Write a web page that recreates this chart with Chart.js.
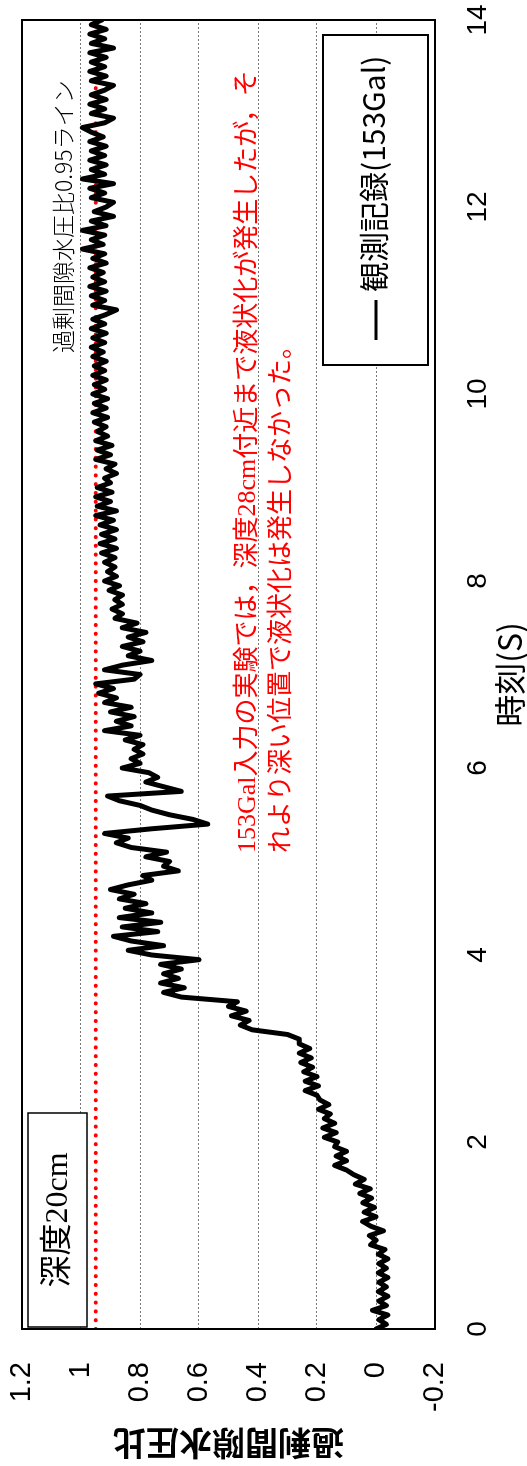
<!DOCTYPE html>
<html><head><meta charset="utf-8">
<script src="https://cdn.jsdelivr.net/npm/chart.js@4"></script>
<style>
html,body{margin:0;padding:0;background:#fff;overflow:hidden;width:527px;height:1466px;}
#wrap{position:absolute;left:0;top:0;width:1466px;height:527px;transform-origin:0 0;transform:translateY(1466px) rotate(-90deg);background:#fff;}
canvas{display:block;}
</style></head><body>
<div id="wrap"><canvas id="c" width="1466" height="527" style="width:1466px;height:527px"></canvas></div>
<script>
// sample interval of the record (s)
const DT = 0.05;
// excess pore water pressure ratio, one array per second
const seg00 = [0.0,-0.035,-0.01,-0.04,0.012,-0.035,-0.01,-0.04,-0.008,-0.035,-0.01,-0.04,-0.008,-0.035,-0.01,-0.04,-0.008,-0.03,0.018,0.0];
const seg01 = [0.022,-0.025,0.018,0.045,0.0,0.04,0.005,0.045,0.015,0.055,0.02,0.07,0.04,0.075,0.1,0.14,0.1,0.135,0.1,0.14];
const seg02 = [0.13,0.175,0.135,0.18,0.14,0.175,0.155,0.195,0.16,0.19,0.2,0.24,0.195,0.24,0.2,0.245,0.215,0.255,0.22,0.26];
const seg03 = [0.225,0.26,0.26,0.3,0.42,0.46,0.43,0.49,0.44,0.5,0.47,0.66,0.72,0.65,0.73,0.67,0.72,0.66,0.73,0.6];
const seg04 = [0.76,0.84,0.72,0.83,0.89,0.74,0.86,0.73,0.87,0.76,0.85,0.78,0.87,0.82,0.9,0.84,0.76,0.79,0.67,0.72];
const seg05 = [0.7,0.78,0.71,0.83,0.88,0.84,0.92,0.76,0.57,0.62,0.7,0.76,0.8,0.87,0.91,0.66,0.72,0.78,0.74,0.77];
const seg06 = [0.86,0.8,0.83,0.79,0.82,0.79,0.85,0.8,0.92,0.83,0.88,0.82,0.9,0.83,0.92,0.88,0.94,0.89,0.95,0.82];
const seg07 = [0.8,0.92,0.86,0.76,0.84,0.8,0.86,0.79,0.84,0.78,0.86,0.81,0.885,0.86,0.895,0.86,0.885,0.86,0.905,0.87];
const seg08 = [0.92,0.88,0.91,0.885,0.92,0.885,0.93,0.88,0.935,0.885,0.93,0.88,0.935,0.89,0.95,0.88,0.945,0.9,0.95,0.895];
const seg09 = [0.945,0.9,0.92,0.88,0.915,0.885,0.95,0.9,0.945,0.895,0.95,0.91,0.945,0.915,0.955,0.91,0.96,0.915,0.955,0.91];
const seg10 = [0.96,0.92,0.955,0.915,0.96,0.92,0.955,0.915,0.96,0.925,0.965,0.92,0.96,0.915,0.965,0.92,0.96,0.915,0.88,0.96];
const seg11 = [0.92,0.965,0.915,0.97,0.92,0.96,0.925,0.97,0.915,0.96,0.92,0.995,0.925,0.965,0.92,0.995,0.915,0.965,0.89,0.955];
const seg12 = [0.915,0.89,0.965,0.92,0.97,0.89,0.995,0.92,0.965,0.915,0.97,0.92,0.965,0.915,0.97,0.925,0.965,0.995,0.92,0.89];
const seg13 = [0.965,0.92,0.97,0.915,0.965,0.92,0.89,0.965,0.915,0.97,0.92,0.965,0.915,0.97,0.89,0.965,0.92,0.97,0.915,0.965];
const seg14 = [0.93];
// 0.95 reference line
const lineTimes = [0, 14];
const lineValues = [0.95, 0.95];
// axes
const xTicks = [0, 2, 4, 6, 8, 10, 12, 14];
const yTicks = [-0.2, 0, 0.2, 0.4, 0.6, 0.8, 1, 1.2];
const seriesName = '観測記録(153Gal)';
const depthLabel = '深度20cm';
const refLabel = '過剰間隙水圧比0.95ライン';
const noteLines = ['153Gal入力の実験では，深度28cm付近まで液状化が発生したが，そ', 'れより深い位置で液状化は発生しなかった。'];

const values = [].concat(seg00,seg01,seg02,seg03,seg04,seg05,seg06,seg07,seg08,seg09,seg10,seg11,seg12,seg13,seg14);
const obs = values.map((v,i)=>({x: Math.round(i*DT*100)/100, y: v}));
const ref = lineTimes.map((t,i)=>({x:t, y:lineValues[i]}));

function noPad(s){ s.paddingTop = 0; s.paddingBottom = 0; s.paddingLeft = 0; s.paddingRight = 0; }

const annot = {
  id: 'annot',
  afterDatasetsDraw(chart){
    const ctx = chart.ctx, a = chart.chartArea;
    ctx.save();
    // plot frame
    ctx.strokeStyle = '#000'; ctx.lineWidth = 2;
    ctx.strokeRect(a.left, a.top, a.right - a.left, a.bottom - a.top);
    // depth box
    ctx.fillStyle = '#fff';
    ctx.fillRect(a.left + 2, a.top + 6, 214, 59);
    ctx.lineWidth = 1.5;
    ctx.strokeRect(a.left + 2, a.top + 6, 214, 59);
    ctx.fillStyle = '#000';
    ctx.font = '32px "Liberation Serif", "Noto Sans CJK JP"';
    ctx.textAlign = 'center'; ctx.textBaseline = 'middle';
    ctx.fillText(depthLabel, a.left + 109, a.top + 37);
    // reference line label
    ctx.font = '300 23px "Noto Sans CJK JP"';
    ctx.textAlign = 'left';
    ctx.fillText(refLabel, 1113, 63);
    // red note
    ctx.fillStyle = '#ff0000';
    ctx.font = '26px "Liberation Serif", "Noto Sans CJK JP"';
    ctx.fillText(noteLines[0], 613, 248);
    ctx.fillText(noteLines[1], 613, 282);
    // legend
    ctx.fillStyle = '#fff';
    ctx.fillRect(1101, 323, 330, 105);
    ctx.strokeStyle = '#000'; ctx.lineWidth = 2;
    ctx.strokeRect(1101, 323, 330, 105);
    ctx.lineWidth = 3;
    ctx.beginPath(); ctx.moveTo(1126, 376); ctx.lineTo(1166, 376); ctx.stroke();
    ctx.fillStyle = '#000';
    ctx.font = '30px "Noto Sans CJK JP"';
    ctx.fillText(seriesName, 1174, 374);
    ctx.restore();
  }
};

new Chart(document.getElementById('c'), {
  type: 'line',
  data: {
    datasets: [
      { label: seriesName, data: obs, borderColor: '#000', borderWidth: 5, borderJoinStyle: 'round', borderCapStyle: 'round', pointRadius: 0, tension: 0, fill: false },
      { label: '0.95', data: ref, borderColor: '#ff0000', borderWidth: 4.2, borderDash: [0, 8.8], borderCapStyle: 'round', pointRadius: 0, fill: false }
    ]
  },
  options: {
    responsive: false, animation: false, devicePixelRatio: 1,
    layout: { padding: { top: 22, right: 20, left: 0, bottom: 0 } },
    plugins: { legend: { display: false }, tooltip: { enabled: false } },
    scales: {
      x: {
        type: 'linear', min: 0, max: 14,
        afterBuildTicks(s){ s.ticks = xTicks.map(v=>({value:v})); },
        afterFit(s){ s.height = 92; noPad(s); },
        grid: { display: false, drawTicks: false },
        border: { display: false },
        ticks: { color: '#000', padding: 26, maxRotation: 0, font: { family: '"Liberation Sans", Arial, sans-serif', size: 28 } },
        title: { display: true, text: '時刻(S)', color: '#000', padding: { top: 0, bottom: 0 }, font: { family: '"Noto Sans CJK JP"', size: 32, lineHeight: 1.1 } }
      },
      y: {
        type: 'linear', min: -0.2, max: 1.2,
        afterBuildTicks(s){ s.ticks = yTicks.map(v=>({value:v})); },
        afterFit(s){ s.width = 137; noPad(s); },
        grid: { color: '#7a7a7a', lineWidth: 1, drawTicks: false },
        border: { display: false, dash: [2, 2] },
        ticks: { color: '#000', padding: 33, callback: v => String(Math.round(v*10)/10), font: { family: '"Liberation Sans", Arial, sans-serif', size: 29 } },
        title: { display: true, text: '過剰間隙水圧比', color: '#000', padding: { top: 3, bottom: 0 }, font: { family: '"Noto Sans CJK JP"', size: 33, weight: 'bold' } }
      }
    }
  },
  plugins: [annot]
});
</script>
</body></html>
